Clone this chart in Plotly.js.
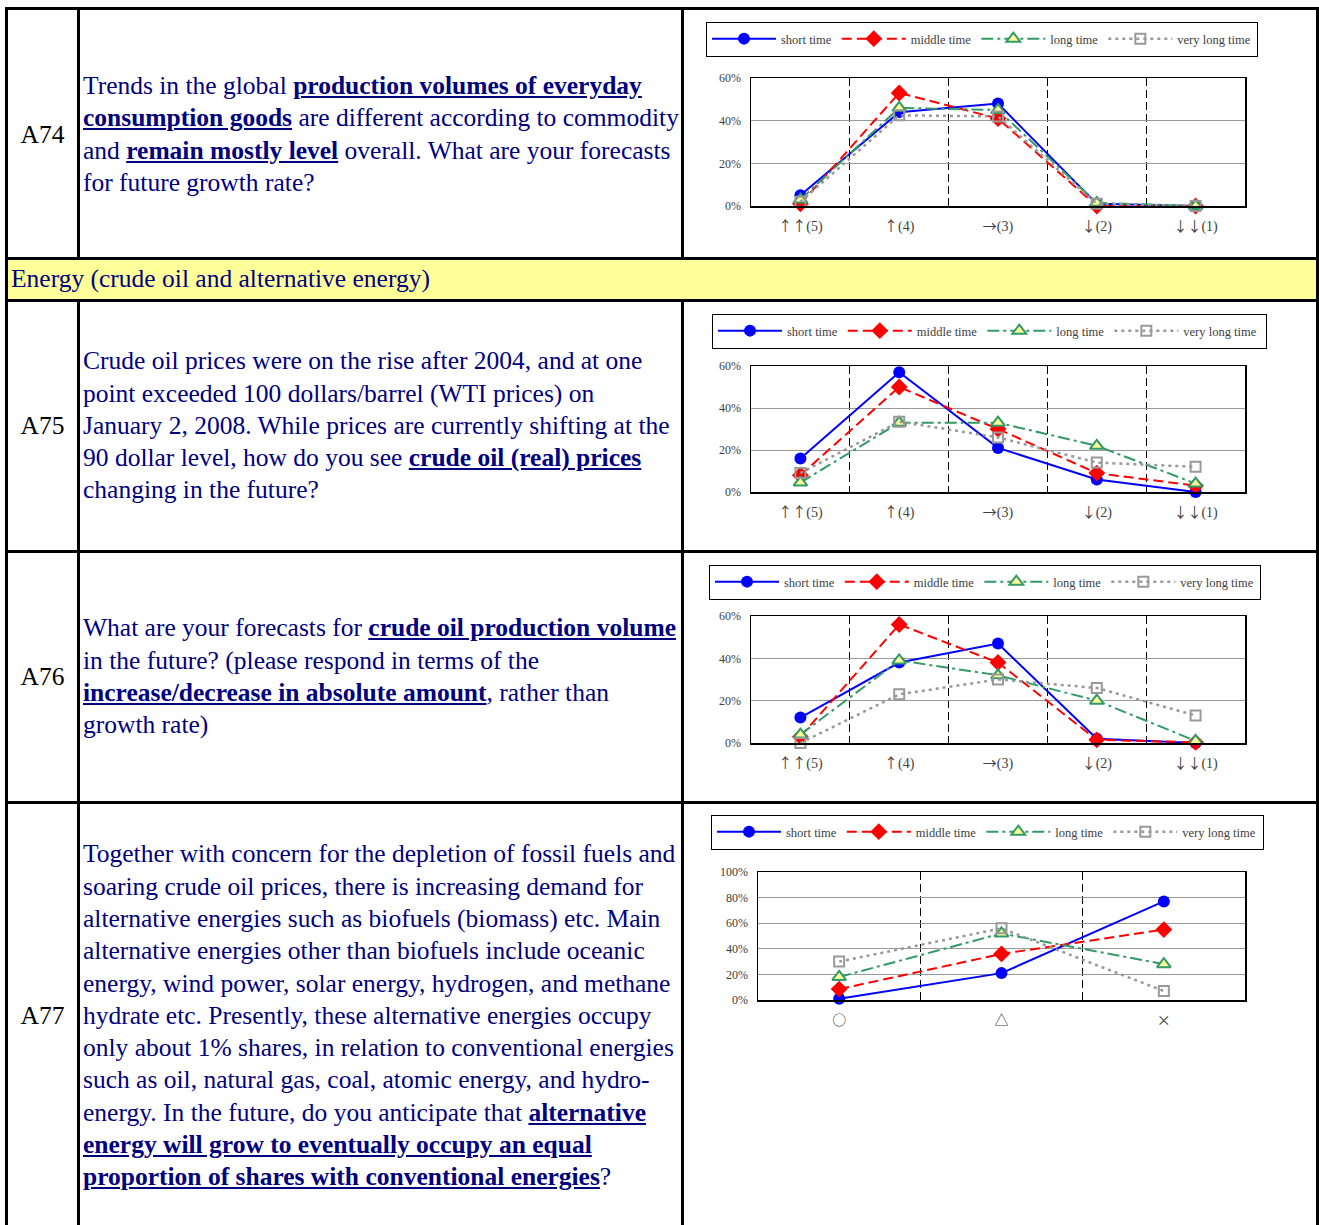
<!DOCTYPE html>
<html><head><meta charset="utf-8">
<script src="https://cdn.plot.ly/plotly-3.0.1.min.js"></script>
<style>
html,body{margin:0;padding:0;}
body{width:1319px;height:1225px;overflow:hidden;position:relative;background:#fff;font-family:'Liberation Serif','Times New Roman',serif;}
.ln{position:absolute;background:#000;}
.cell{position:absolute;display:flex;align-items:center;box-sizing:border-box;}
.q{color:#000080;font-size:25.5px;line-height:32.3px;white-space:nowrap;padding-left:3px;}
.q b{text-decoration:underline;}
.id{justify-content:center;font-size:25.5px;color:#000;}
.chart{position:absolute;left:684px;width:632px;}
.lg{position:absolute;border:1px solid #000;box-sizing:border-box;pointer-events:none;}
</style></head>
<body>
<div style="position:absolute;left:8px;top:260px;width:1308px;height:39px;background:#FFFF99;"></div>
<div class="cell q" style="left:8px;top:260px;height:39px;padding-left:3px;">Energy (crude oil and alternative energy)</div>

<div class="cell id" style="left:8px;width:69px;top:11px;height:247px;">A74</div>
<div class="cell id" style="left:8px;width:69px;top:302px;height:248px;">A75</div>
<div class="cell id" style="left:8px;width:69px;top:553px;height:248px;">A76</div>
<div class="cell id" style="left:8px;width:69px;top:804px;height:424px;">A77</div>

<div class="cell q" style="left:80px;top:11px;height:247px;"><div>Trends in the global <b>production volumes of everyday</b><br><b>consumption goods</b> are different according to commodity<br>and <b>remain mostly level</b> overall. What are your forecasts<br>for future growth rate?</div></div>
<div class="cell q" style="left:80px;top:302px;height:248px;"><div>Crude oil prices were on the rise after 2004, and at one<br>point exceeded 100 dollars/barrel (WTI prices) on<br>January 2, 2008. While prices are currently shifting at the<br>90 dollar level, how do you see <b>crude oil (real) prices</b><br>changing in the future?</div></div>
<div class="cell q" style="left:80px;top:553px;height:248px;"><div>What are your forecasts for <b>crude oil production volume</b><br>in the future? (please respond in terms of the<br><b>increase/decrease in absolute amount</b>, rather than<br>growth rate)</div></div>
<div class="cell q" style="left:80px;top:804px;height:424px;"><div>Together with concern for the depletion of fossil fuels and<br>soaring crude oil prices, there is increasing demand for<br>alternative energies such as biofuels (biomass) etc. Main<br>alternative energies other than biofuels include oceanic<br>energy, wind power, solar energy, hydrogen, and methane<br>hydrate etc. Presently, these alternative energies occupy<br>only about 1% shares, in relation to conventional energies<br>such as oil, natural gas, coal, atomic energy, and hydro-<br>energy. In the future, do you anticipate that <b>alternative</b><br><b>energy will grow to eventually occupy an equal</b><br><b>proportion of shares with conventional energies</b>?</div></div>

<div id="c1" class="chart" style="top:10px;height:247px;"></div>
<div id="c2" class="chart" style="top:302px;height:248px;"></div>
<div id="c3" class="chart" style="top:553px;height:248px;"></div>
<div id="c4" class="chart" style="top:804px;height:421px;"></div>

<div class="lg" style="left:706px;top:22px;width:552px;height:35px;"></div>
<div class="lg" style="left:712px;top:314px;width:555px;height:35px;"></div>
<div class="lg" style="left:709px;top:565px;width:552px;height:35px;"></div>
<div class="lg" style="left:711px;top:815px;width:553px;height:35px;"></div>

<div class="ln" style="left:5px;top:7px;width:1314px;height:3px;"></div>
<div class="ln" style="left:5px;top:7px;width:3px;height:1218px;"></div>
<div class="ln" style="left:1316px;top:7px;width:3px;height:1218px;"></div>
<div class="ln" style="left:77px;top:7px;width:3px;height:251px;"></div>
<div class="ln" style="left:681px;top:7px;width:3px;height:251px;"></div>
<div class="ln" style="left:77px;top:300px;width:3px;height:925px;"></div>
<div class="ln" style="left:681px;top:300px;width:3px;height:925px;"></div>
<div class="ln" style="left:5px;top:257px;width:1314px;height:3px;"></div>
<div class="ln" style="left:5px;top:299px;width:1314px;height:3px;"></div>
<div class="ln" style="left:5px;top:550px;width:1314px;height:3px;"></div>
<div class="ln" style="left:5px;top:801px;width:1314px;height:3px;"></div>

<script>
// ---------- data ----------
const seriesNames = ['short time', 'middle time', 'long time', 'very long time'];
const trendCats = ['↑↑(5)', '↑(4)', '→(3)', '↓(2)', '↓↓(1)'];
const shareCats = ['○', '△', '×'];

const a74Short   = [5, 44, 48, 1, 0];
const a74Middle  = [1, 53, 41, 0, 0];
const a74Long    = [3, 46, 45, 1.5, 0];
const a74VLong   = [2, 42.5, 42, 1, 0];

const a75Short   = [16, 57, 21, 6, 0];
const a75Middle  = [8, 50, 30, 9, 3];
const a75Long    = [4.5, 33, 33, 22, 4];
const a75VLong   = [9, 33.5, 26, 14, 12];

const a76Short   = [12, 38, 47, 2, 0];
const a76Middle  = [3, 56, 38, 1.5, 0.3];
const a76Long    = [4, 39, 32, 20, 1];
const a76VLong   = [0, 23, 30, 26, 13];

const a77Short   = [1, 21, 77];
const a77Middle  = [8.5, 36, 55];
const a77Long    = [18, 52, 28];
const a77VLong   = [30, 56, 7];

const yTicks60  = [0, 20, 40, 60];
const yTicks100 = [0, 20, 40, 60, 80, 100];

// ---------- styles ----------
const styles = [
  {line:{color:'#0000FF', width:2, dash:'solid'}, marker:{symbol:'circle', size:12, color:'#0000FF'}},
  {line:{color:'#FF0000', width:2, dash:'10px,5px'}, marker:{symbol:'diamond', size:13, color:'#FF0000'}},
  {line:{color:'#339966', width:2, dash:'12px,4px,3px,4px'}, marker:{symbol:'triangle-up', size:12, color:'#FFFF99', line:{color:'#339966', width:2}}},
  {line:{color:'#999999', width:2.5, dash:'3px,4px'}, marker:{symbol:'square-open', size:10, color:'#999999', line:{color:'#999999', width:2}}}
];

const CJK = 'Noto Sans CJK JP';
function labelHtml(c){
  return c.replace(/([↑↓→○△×])/g, '<span style="font-family:\'' + CJK + '\'">$1</span>');
}

function makeTraces(cats, vals){
  return vals.map((v,i)=>Object.assign({
    type:'scatter', mode:'lines+markers', x:cats, y:v, name:seriesNames[i], cliponaxis:false
  }, JSON.parse(JSON.stringify(styles[i]))));
}

function makeChart(id, cats, vals, ymax, ticks, g){
  const W=632, H=g.h;
  const pw = W-g.l-g.r, ph = H-g.t-g.b;
  const layout = {
    width:W, height:H,
    margin:{l:g.l, r:g.r, t:g.t, b:g.b, pad:0},
    paper_bgcolor:'rgba(0,0,0,0)', plot_bgcolor:'#fff',
    font:{family:'Liberation Serif, serif', color:'#404040'},
    showlegend:true,
    legend:{orientation:'h', x:(g.lx-g.l)/pw, y:(g.ly)/ph, xanchor:'left', yanchor:'middle',
            font:{size:12.5, color:'#404040', family:'Liberation Serif, serif'}, itemwidth:64,
            bgcolor:'rgba(0,0,0,0)', borderwidth:0, traceorder:'normal', itemclick:false},
    xaxis:{type:'category', categoryarray:cats, range:[-0.5, cats.length-0.5], tickson:'boundaries',
           tickmode:'array', tickvals:cats, ticktext:cats.map(labelHtml),
           showgrid:true, gridcolor:'#000', griddash:'8px,4px', gridwidth:1,
           showline:true, mirror:true, linecolor:'#000', linewidth:1.5, ticks:'', zeroline:false,
           tickfont:{size:14, color:'#404040'}, ticklabelstandoff:7, fixedrange:true},
    yaxis:{range:[0,ymax], tickmode:'array', tickvals:ticks, ticktext:ticks.map(t=>t+'%'),
           showgrid:true, gridcolor:'#999', gridwidth:1,
           showline:true, mirror:true, linecolor:'#000', linewidth:1.5, ticks:'', zeroline:false,
           tickfont:{size:12, color:'#404040'}, ticklabelstandoff:6, fixedrange:true}
  };
  Plotly.newPlot(id, makeTraces(cats, vals), layout, {staticPlot:true, displayModeBar:false});
}

makeChart('c1', trendCats, [a74Short,a74Middle,a74Long,a74VLong], 60, yTicks60,
  {h:247, l:67, r:71, t:68, b:51, lx:23, ly:196-29});
makeChart('c2', trendCats, [a75Short,a75Middle,a75Long,a75VLong], 60, yTicks60,
  {h:248, l:67, r:71, t:64, b:58, lx:29, ly:190-29});
makeChart('c3', trendCats, [a76Short,a76Middle,a76Long,a76VLong], 60, yTicks60,
  {h:248, l:67, r:71, t:63, b:58, lx:26, ly:190-29});
makeChart('c4', shareCats, [a77Short,a77Middle,a77Long,a77VLong], 100, yTicks100,
  {h:421, l:74, r:71, t:68, b:225, lx:28, ly:196-28});
</script>
</body></html>
